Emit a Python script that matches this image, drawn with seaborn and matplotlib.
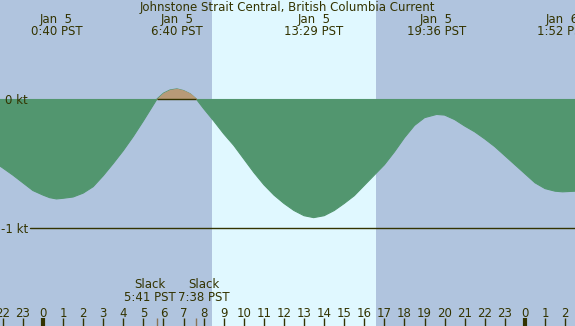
import matplotlib
matplotlib.use("Agg")
import matplotlib.pyplot as plt
import seaborn as sns
import numpy as np
import pandas as pd

# current speed (kt), hours relative to Jan 5 00:00 PST
hours = [-2.14, -2, -1.5, -1, -0.5, 0, 0.33, 0.67, 1, 1.5, 2, 2.5, 3, 3.5, 4, 4.5, 5,
         5.68, 6, 6.33, 6.67, 7, 7.33, 7.63,
         8, 8.5, 9, 9.5, 10, 10.5, 11, 11.5, 12, 12.5, 13, 13.48, 14, 14.5, 15, 15.5,
         16, 16.5, 17, 17.5, 18, 18.5, 19, 19.6, 20, 20.5, 21, 21.5, 22, 22.5, 23,
         23.5, 24, 24.5, 25, 25.5, 25.87, 26.49]
speed = [-0.52, -0.535, -0.59, -0.65, -0.71, -0.745, -0.765, -0.775, -0.77, -0.76, -0.73,
         -0.68, -0.595, -0.50, -0.40, -0.29, -0.17,
         0.0, 0.045, 0.07, 0.078, 0.065, 0.04, 0.0,
         -0.075, -0.17, -0.27, -0.36, -0.465, -0.57, -0.665, -0.745, -0.81, -0.865,
         -0.905, -0.92, -0.905, -0.865, -0.81, -0.75, -0.67, -0.59, -0.51, -0.41, -0.30,
         -0.205, -0.145, -0.12, -0.125, -0.16, -0.21, -0.255, -0.31, -0.37, -0.44, -0.51,
         -0.58, -0.65, -0.695, -0.715, -0.72, -0.715]

event_times = [0.67, 6.67, 13.48, 19.6, 25.87]
event_dates = ["Jan  5", "Jan  5", "Jan  5", "Jan  5", "Jan  6"]
event_labels = ["0:40 PST", "6:40 PST", "13:29 PST", "19:36 PST", "1:52 PST"]

slack_times = [5.68, 7.63]
slack_labels = ["Slack\n5:41 PST", "Slack\n7:38 PST"]

sunrise, sunset = 8.42, 16.58
hour_ticks = list(range(-2, 27))
tick_labels = [str(h % 24) for h in hour_ticks]

title = "Johnstone Strait Central, British Columbia Current"

night = "#b0c4de"
day = "#e0f8ff"
ebb = "#52966f"
flood = "#b89a77"
ink = "#333300"

df = pd.DataFrame({"hour": hours, "speed": speed})

sns.set_style("white")
plt.rcParams["font.family"] = ["DejaVu Sans"]

fig = plt.figure(figsize=(5.75, 3.26), dpi=100)
ax = fig.add_axes([0, 0, 1, 1])
ax.set_facecolor(night)
ax.set_xlim(-2.14, 26.49)
ax.set_ylim(-1.760, 0.767)
for s in ax.spines.values():
    s.set_visible(False)

ax.axvspan(sunrise, sunset, color=day, lw=0, zorder=0)

h = df["hour"].to_numpy()
v = df["speed"].to_numpy()
sns.lineplot(data=df, x="hour", y="speed", ax=ax, color=ebb, lw=0.8, zorder=1)
ax.fill_between(h, v, 0, where=v <= 0, interpolate=True, color=ebb, lw=0, zorder=1)
ax.fill_between(h, v, 0, where=v >= 0, interpolate=True, facecolor=flood,
                edgecolor=flood, lw=0.8, zorder=1.5)
ax.hlines(0, slack_times[0], slack_times[1], color=ink, lw=1, zorder=4)
ax.axhline(-1, xmin=0.053, xmax=1, color=ink, lw=1, zorder=4)

# y labels inside the plot
ax.set_yticks([0, -1])
ax.set_yticklabels(["0 kt", "-1 kt"])
ax.tick_params(axis="y", left=True, direction="in", length=0, pad=-20, labelsize=8.5,
               labelcolor=ink)

# hour ticks along the bottom
ax.set_xticks(hour_ticks)
ax.set_xticklabels(tick_labels)
ax.tick_params(axis="x", bottom=True, direction="in", length=6, width=1, color=ink,
               pad=-14, labelsize=8.5, labelcolor=ink)
for t, hr in zip(ax.xaxis.get_major_ticks(), hour_ticks):
    if hr % 24 == 0:
        t.tick1line.set_markeredgewidth(3)
ax.set_xticks(slack_times, minor=True)
ax.tick_params(axis="x", which="minor", bottom=True, direction="in", length=6, width=1,
               color="#8b7355")
ax.xaxis.set_zorder(5)
ax.yaxis.set_zorder(5)
ax.set_xlabel("")
ax.set_ylabel("")

tr = ax.get_xaxis_transform()
ax.text(0.5, 0.977, title, transform=ax.transAxes, ha="center", va="center",
        fontsize=8.5, color=ink)
for t, d, lab in zip(event_times, event_dates, event_labels):
    ax.text(t, 0.939, d, transform=tr, ha="center", va="center", fontsize=8.5, color=ink)
    ax.text(t, 0.902, lab, transform=tr, ha="center", va="center", fontsize=8.5, color=ink)

for t, lab, off in zip(slack_times, slack_labels, [-0.35, 0.4]):
    ax.text(t + off, 0.066, lab, transform=tr, ha="center", va="bottom",
            fontsize=8.5, color=ink, linespacing=1.0, multialignment="center")

fig.savefig("out.png", dpi=100)
